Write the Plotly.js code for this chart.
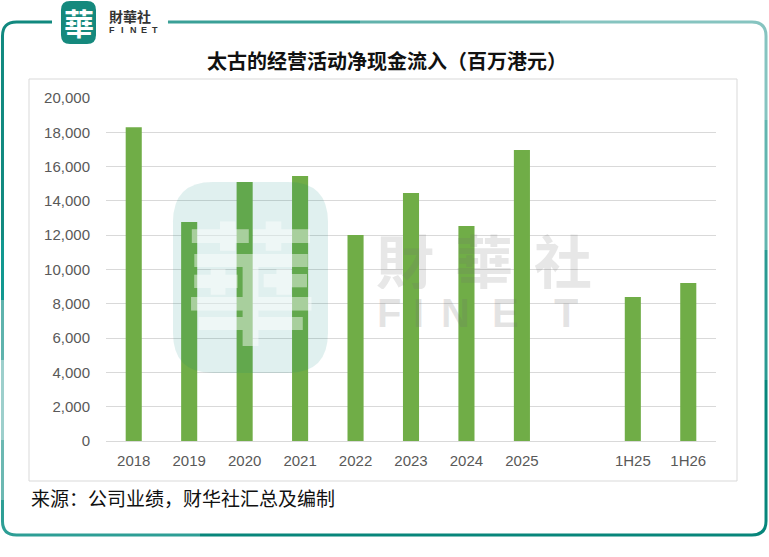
<!DOCTYPE html>
<html>
<head>
<meta charset="utf-8">
<script src="https://cdn.plot.ly/plotly-3.0.1.min.js"></script>
<style>
  html, body { margin: 0; padding: 0; background: #fff; }
  #chart { width: 769px; height: 557px; }
</style>
</head>
<body>
<div id="chart"></div>
<script>
// 太古 经营活动净现金流入（百万港元）
const categories = ['2018', '2019', '2020', '2021', '2022', '2023', '2024', '2025', ' ', '1H25', '1H26'];
const cashInflow = [18300, 12770, 15100, 15450, 12010, 14460, 12540, 16970, null, 8400, 9210];

const titleText = '太古的经营活动净现金流入（百万港元）';
const sourceText = '来源：公司业绩，财华社汇总及编制';

const W = 769, H = 557;
const L = 106, R = 53, T = 98, B = 116;

// pixel -> paper helpers for decoration
const px = x => (x - L) / (W - L - R);
const py = y => (H - B - y) / (H - T - B);
const pt = (x, y) => px(x).toFixed(4) + ',' + py(y).toFixed(4);

function seg(points, color) {
  let d = '';
  points.forEach(p => {
    if (p[0] === 'Q') d += ' Q' + pt(p[1], p[2]) + ' ' + pt(p[3], p[4]);
    else d += ' ' + p[0] + pt(p[1], p[2]);
  });
  return {
    type: 'path', xref: 'paper', yref: 'paper', path: d.trim(),
    line: { color: color, width: 3 }, layer: 'above'
  };
}

function roundRect(x0, y0, x1, y1, r, fill, layer) {
  const d = 'M' + pt(x0 + r, y0) + ' L' + pt(x1 - r, y0) + ' Q' + pt(x1, y0) + ' ' + pt(x1, y0 + r) +
    ' L' + pt(x1, y1 - r) + ' Q' + pt(x1, y1) + ' ' + pt(x1 - r, y1) +
    ' L' + pt(x0 + r, y1) + ' Q' + pt(x0, y1) + ' ' + pt(x0, y1 - r) +
    ' L' + pt(x0, y0 + r) + ' Q' + pt(x0, y0) + ' ' + pt(x0 + r, y0) + ' Z';
  return {
    type: 'path', xref: 'paper', yref: 'paper', path: d,
    fillcolor: fill, line: { width: 0 }, layer: layer || 'above'
  };
}

const fx0 = 2.5, fx1 = 766, fy0 = 22, fy1 = 535, fr = 14;

const shapes = [
  // inner chart box
  {
    type: 'rect', xref: 'paper', yref: 'paper',
    x0: px(29), x1: px(737), y0: py(481), y1: py(79),
    line: { color: '#D9D9D9', width: 1 }, layer: 'below'
  },
  // outer frame, approximated gradient
  seg([['M', 52, fy0], ['L', fx0 + fr, fy0], ['Q', fx0, fy0, fx0, fy0 + fr], ['L', fx0, 240]], '#11897f'),
  seg([['M', fx0, 240], ['L', fx0, 300]], '#129890'),
  seg([['M', fx0, 300], ['L', fx0, 360]], '#5fb3ad'),
  seg([['M', fx0, 360], ['L', fx0, 440]], '#9dcfcc'),
  seg([['M', fx0, 440], ['L', fx0, 500]], '#6cb8b2'),
  seg([['M', fx0, 500], ['L', fx0, fy1 - fr], ['Q', fx0, fy1, fx0 + fr, fy1], ['L', 200, fy1]], '#2d9e95'),
  seg([['M', 200, fy1], ['L', fx1 - fr, fy1], ['Q', fx1, fy1, fx1, fy1 - fr], ['L', fx1, 380]], '#07867b'),
  seg([['M', fx1, 380], ['L', fx1, 250]], '#2a9a92'),
  seg([['M', fx1, 250], ['L', fx1, 120]], '#62b5af'),
  seg([['M', fx1, 120], ['L', fx1, fy0 + fr], ['Q', fx1, fy0, fx1 - fr, fy0], ['L', 560, fy0]], '#86c4c0'),
  seg([['M', 560, fy0], ['L', 360, fy0]], '#62b2ac'),
  seg([['M', 360, fy0], ['L', 168, fy0]], '#3aa097'),
  // header logo badge
  roundRect(61, 1, 96, 44, 9, '#15897d', 'above'),
  // watermark logo blob
  roundRect(173, 182, 328, 373, 40, 'rgba(0,135,122,0.12)', 'above')
];

const annotations = [
  {
    text: '<b>' + titleText + '</b>', xref: 'paper', yref: 'paper',
    x: px(387), y: py(61), showarrow: false, xanchor: 'center', yanchor: 'middle',
    font: { family: 'Noto Sans CJK SC', size: 20, color: '#111' }
  },
  {
    text: sourceText, xref: 'paper', yref: 'paper',
    x: px(29), y: py(497), showarrow: false, xanchor: 'left', yanchor: 'middle',
    font: { family: 'Noto Sans CJK SC', size: 19, color: '#111' }
  },
  // header logo texts
  {
    text: '<b>華</b>', xref: 'paper', yref: 'paper', x: px(78.5), y: py(22),
    showarrow: false, xanchor: 'center', yanchor: 'middle',
    font: { family: 'Noto Sans CJK TC', size: 30, color: '#ffffff' }
  },
  {
    text: '<b>財華社</b>', xref: 'paper', yref: 'paper', x: px(107), y: py(16),
    showarrow: false, xanchor: 'left', yanchor: 'middle',
    font: { family: 'Noto Sans CJK TC', size: 14, color: '#333' }
  },
  // watermark
  {
    text: '<b>華</b>', xref: 'paper', yref: 'paper', x: px(251), y: py(276),
    showarrow: false, xanchor: 'center', yanchor: 'middle',
    font: { family: 'Noto Sans CJK TC', size: 132, color: 'rgba(255,255,255,0.45)' }
  }
];

['F', 'I', 'N', 'E', 'T'].forEach((ch, i) => {
  annotations.push({
    text: '<b>' + ch + '</b>', xref: 'paper', yref: 'paper', x: px(112 + i * 10.8), y: py(30),
    showarrow: false, xanchor: 'center', yanchor: 'middle',
    font: { family: 'Liberation Sans', size: 9, color: '#333' }
  });
});

['財', '華', '社'].forEach((ch, i) => {
  annotations.push({
    text: '<b>' + ch + '</b>', xref: 'paper', yref: 'paper', x: px(405 + i * 79), y: py(259),
    showarrow: false, xanchor: 'center', yanchor: 'middle', height: 60,
    font: { family: 'Noto Sans CJK TC', size: 58, color: 'rgba(110,110,110,0.17)' }
  });
});

[389, 418, 455, 505, 566].forEach((cx, i) => {
  annotations.push({
    text: '<b>' + 'FINET'[i] + '</b>', xref: 'paper', yref: 'paper', x: px(cx), y: py(313),
    showarrow: false, xanchor: 'center', yanchor: 'middle', height: 34,
    font: { family: 'Liberation Sans', size: 40, color: 'rgba(110,110,110,0.19)' }
  });
});

const trace = {
  type: 'bar',
  x: categories,
  y: cashInflow,
  marker: { color: '#70AD47' },
  hoverinfo: 'x+y'
};

const layout = {
  width: W,
  height: H,
  margin: { l: L, r: R, t: T, b: B, pad: 0 },
  paper_bgcolor: '#ffffff',
  plot_bgcolor: '#ffffff',
  showlegend: false,
  bargap: 0.71,
  xaxis: {
    type: 'category',
    categoryorder: 'array',
    categoryarray: categories,
    showgrid: false,
    showline: true,
    linecolor: '#D9D9D9',
    linewidth: 1,
    ticks: '',
    ticklabelstandoff: 6,
    tickfont: { family: 'Liberation Sans', size: 15, color: '#595959' },
    fixedrange: true
  },
  yaxis: {
    range: [0, 20000],
    dtick: 2000,
    tickformat: ',d',
    showgrid: true,
    gridcolor: '#D9D9D9',
    gridwidth: 1,
    zeroline: false,
    showline: false,
    ticks: '',
    ticklabelstandoff: 15,
    tickfont: { family: 'Liberation Sans', size: 15, color: '#595959' },
    fixedrange: true
  },
  shapes: shapes,
  annotations: annotations
};

Plotly.newPlot('chart', [trace], layout, { displayModeBar: false, staticPlot: true });
</script>
</body>
</html>
